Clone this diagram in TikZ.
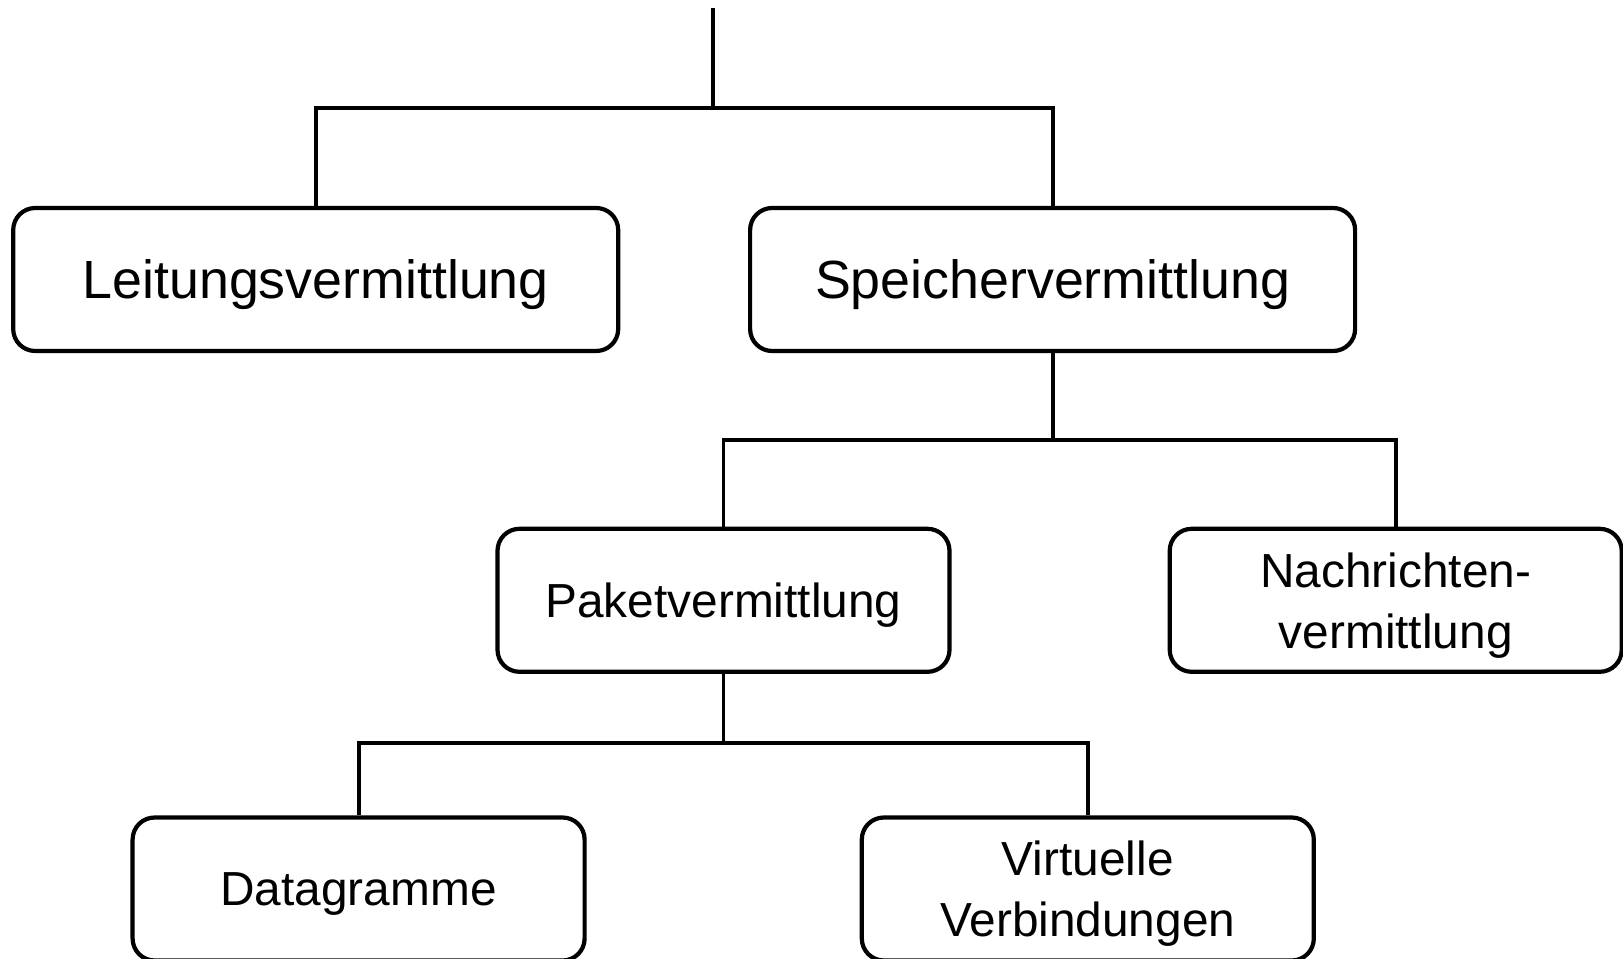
\documentclass[tikz,border=0pt]{standalone}
\usepackage{fontspec}
\setmainfont{Liberation Sans}
\usepackage{tikz}

\tikzset{
    knoten/.style={draw, line width=1.2pt, rounded corners=0.22cm, minimum height=1.43cm, text depth=0pt, align=center},
    gross/.style={knoten, minimum width=6.05cm, font=\fontsize{15.3}{18}\selectfont},
    klein/.style={knoten, minimum width=4.52cm, font=\fontsize{13.6}{17.4}\selectfont},
    ast/.style={line width=1.1pt}
}

\begin{document}
\begin{tikzpicture}
    \useasboundingbox (0,0) rectangle (16.23,-9.59);
    % erste Ebene
    \node[gross] (leitung) at (3.157,-2.795) {Leitungsvermittlung};
    \node[gross] (speicher) at (10.526,-2.795) {Speichervermittlung};
    % zweite Ebene
    \node[klein] (paket) at (7.235,-6.003) {Paketvermittlung};
    \node[klein] (nachricht) at (13.957,-6.003) {Nachrichten-\\vermittlung};
    % dritte Ebene
    \node[klein] (datagramm) at (3.586,-8.89) {Datagramme};
    \node[klein] (virtuell) at (10.878,-8.89) {Virtuelle\\Verbindungen};

    \coordinate (wurzel) at (7.13,-0.08);
    \coordinate (v1) at (7.13,-1.076);
    \coordinate (v2) at (10.526,-4.399);
    \coordinate (v3) at (7.235,-7.43);

    \draw[ast] (wurzel) -- (v1);
    \draw[ast] (leitung.north) |- (v1) -| (speicher.north);
    \draw[ast] (speicher.south) -- (v2);
    \draw[ast] (paket.north) |- (v2) -| (nachricht.north);
    \draw[ast] (paket.south) -- (v3);
    \draw[ast] (datagramm.north) |- (v3) -| (virtuell.north);
\end{tikzpicture}
\end{document}
